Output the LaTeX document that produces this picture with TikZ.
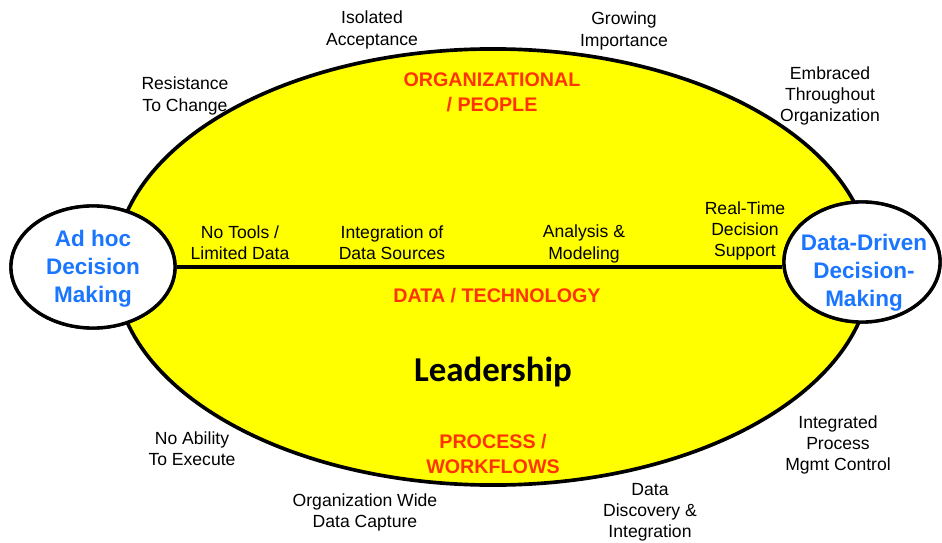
\documentclass[tikz,border=0pt]{standalone}
\usepackage{fontspec}
\setmainfont{Liberation Sans}
\newfontfamily\leadfont{Carlito}
\usetikzlibrary{shapes.geometric}
\definecolor{OvalClr}{RGB}{255,255,0}
\definecolor{AreaClr}{RGB}{255,51,0}
\definecolor{EndClr}{RGB}{26,117,255}

\begin{document}
\begin{tikzpicture}[x=0.025cm,y=0.025cm,
  oval/.style={ellipse,draw=black,line width=2.6pt,fill=OvalClr,inner sep=0pt,
    minimum width=18.9cm,minimum height=10.9cm},
  endoval/.style={ellipse,draw=black,line width=2.4pt,fill=white,inner sep=0pt},
  endtext/.style={align=center,text=EndClr,font=\fontsize{16}{20}\selectfont\bfseries},
  stage/.style={align=center,font=\fontsize{12.5}{15}\selectfont},
  area/.style={align=center,text=AreaClr,font=\fontsize{14}{17.8}\selectfont\bfseries}]
\useasboundingbox (0,0) rectangle (942,542);

\node[oval] (lead) at (493,275) {};

\node[endoval,minimum width=4.1cm,minimum height=3.05cm] (adhoc) at (93,275) {};
\node[endoval,minimum width=3.9cm,minimum height=3cm] (ddm) at (862,280) {};
\draw[line width=2.3pt] (adhoc.east) -- (adhoc.east -| ddm.west);
\node[endoval,minimum width=4.1cm,minimum height=3.05cm] at (adhoc) {};
\node[endoval,minimum width=3.9cm,minimum height=3cm] at (ddm) {};

\node[endtext] (adhoctext) at (93,273.5) {Ad hoc\\Decision\\Making};
\node[endtext] (ddmtext) at (864,269.5) {Data-Driven\\Decision-\\Making};

\node[area] (org) at (492,450) {ORGANIZATIONAL\\/ PEOPLE};
\node[area] (datatech) at (497,246) {DATA / TECHNOLOGY};
\node[area] (proc) at (493,88) {PROCESS /\\WORKFLOWS};
\node[font=\leadfont\bfseries\fontsize{24.8}{29}\selectfont] (leadtext) at (493,170) {Leadership};

\node[stage] (iso) at (372,512) {Isolated\\Acceptance};
\node[stage] (grow) at (624,511) {Growing\\Importance};
\node[stage] (resist) at (185,446) {Resistance\\To Change};
\node[stage] (embr) at (830,446) {Embraced\\Throughout\\Organization};

\node[stage] (notools) at (240,299) {No Tools /\\Limited Data};
\node[stage] (integ) at (392,299) {Integration of\\Data Sources};
\node[stage] (anal) at (584,298) {Analysis \&\\Modeling};
\node[stage] (rt) at (745,311) {Real-Time\\Decision\\Support};

\node[stage] (noab) at (192,93) {No Ability\\To Execute};
\node[stage] (ipmc) at (838,97) {Integrated\\Process\\Mgmt Control};
\node[stage] (owdc) at (365,30) {Organization Wide\\Data Capture};
\node[stage] (ddi) at (650,30) {Data\\Discovery \&\\Integration};

\end{tikzpicture}
\end{document}
